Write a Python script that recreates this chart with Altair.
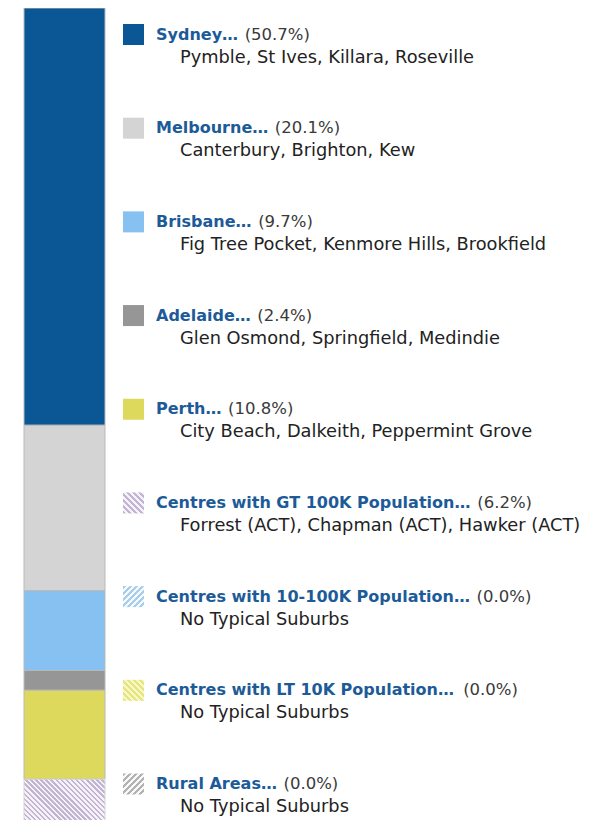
import glob
import struct

import altair as alt
import pandas as pd

# ---------------- data ----------------
names = [
    "Sydney…",
    "Melbourne…",
    "Brisbane…",
    "Adelaide…",
    "Perth…",
    "Centres with GT 100K Population…",
    "Centres with 10-100K Population…",
    "Centres with LT 10K Population…",
    "Rural Areas…",
]
shares = [50.7, 20.1, 9.7, 2.4, 10.8, 6.2, 0.0, 0.0, 0.0]
suburbs = [
    "Pymble, St Ives, Killara, Roseville",
    "Canterbury, Brighton, Kew",
    "Fig Tree Pocket, Kenmore Hills, Brookfield",
    "Glen Osmond, Springfield, Medindie",
    "City Beach, Dalkeith, Peppermint Grove",
    "Forrest (ACT),  Chapman (ACT), Hawker (ACT)",
    "No Typical Suburbs",
    "No Typical Suburbs",
    "No Typical Suburbs",
]
solid_colors = ["#0b5796", "#d4d4d4", "#86c1f1", "#969696", "#dcd95d", "", "", "", ""]

# hatch styles (stripe colour, background, direction)
hatch_styles = {
    5: ("#c4b4d3", "#f6f3f8", "\\"),
    6: ("#a9cde9", "#f4f9fd", "/"),
    7: ("#e6e47f", "#f8f7c6", "\\"),
    8: ("#b2b2b2", "#f8f8f8", "/"),
}

FONT = "DejaVu Sans"
TITLE_SIZE = 16
PCT_SIZE = 16.5
SUB_SIZE = 17.8
TITLE_X = 148
BAR_LEFT, BAR_RIGHT = 16, 97
BAR_RANGE = 823


# ------------- font metrics (for placing the percentage after the bold title) -------------
def load_width_fn(pattern, fallback):
    paths = glob.glob("/usr/share/fonts/**/" + pattern, recursive=True)
    if not paths:
        return lambda s, size: len(s) * size * fallback
    try:
        data = open(paths[0], "rb").read()
        num = struct.unpack(">H", data[4:6])[0]
        tables = {}
        for i in range(num):
            tag, _, off, ln = struct.unpack(">4sIII", data[12 + 16 * i: 28 + 16 * i])
            tables[tag.decode("latin1")] = off
        head = tables["head"]
        upem = struct.unpack(">H", data[head + 18: head + 20])[0]
        hhea = tables["hhea"]
        nhm = struct.unpack(">H", data[hhea + 34: hhea + 36])[0]
        hm = tables["hmtx"]
        adv = [struct.unpack(">H", data[hm + 4 * i: hm + 4 * i + 2])[0] for i in range(nhm)]
        cm = tables["cmap"]
        n = struct.unpack(">H", data[cm + 2: cm + 4])[0]
        sub = None
        for i in range(n):
            pid, eid, off = struct.unpack(">HHI", data[cm + 4 + 8 * i: cm + 12 + 8 * i])
            fmt = struct.unpack(">H", data[cm + off: cm + off + 2])[0]
            if fmt == 4:
                sub = cm + off
                break
        segx2 = struct.unpack(">H", data[sub + 6: sub + 8])[0]
        segs = segx2 // 2
        ends = struct.unpack(">%dH" % segs, data[sub + 14: sub + 14 + segx2])
        starts = struct.unpack(">%dH" % segs, data[sub + 16 + segx2: sub + 16 + 2 * segx2])
        deltas = struct.unpack(">%dh" % segs, data[sub + 16 + 2 * segx2: sub + 16 + 3 * segx2])
        rpos = sub + 16 + 3 * segx2
        roffs = struct.unpack(">%dH" % segs, data[rpos: rpos + segx2])

        def gid(c):
            for k in range(segs):
                if ends[k] >= c:
                    if starts[k] > c:
                        return 0
                    if roffs[k] == 0:
                        return (c + deltas[k]) & 0xFFFF
                    p = rpos + 2 * k + roffs[k] + 2 * (c - starts[k])
                    g = struct.unpack(">H", data[p: p + 2])[0]
                    return (g + deltas[k]) & 0xFFFF if g else 0
            return 0

        def width(s, size):
            return sum(adv[min(gid(ord(ch)), nhm - 1)] for ch in s) * size / upem

        return width
    except Exception:
        return lambda s, size: len(s) * size * fallback


bold_width = load_width_fn("DejaVuSans-Bold.ttf", 0.68)

df = pd.DataFrame(
    {
        "idx": list(range(len(names))),
        "name": names,
        "share": shares,
        "pct": ["(%.1f%%)" % s for s in shares],
        "suburbs": suburbs,
        "color": solid_colors,
        "hatch": [1 if i in hatch_styles else 0 for i in range(len(names))],
    }
)
df["pct_x"] = [TITLE_X + bold_width(n + " ", TITLE_SIZE) + 1 for n in names]


def stripes(c1, c2, direction, w, h, period, frac=0.5):
    """Linear gradient with hard stops that draws 45-degree stripes on a w x h box."""
    gx, gy = 1.0 / h, 1.0 / w
    if direction == "\\":
        p1 = (0.0, 1.0)
        v = (gx, -gy)
        corner = (1.0, 0.0)
    else:
        p1 = (0.0, 0.0)
        v = (gx, gy)
        corner = (1.0, 1.0)
    proj = ((corner[0] - p1[0]) * v[0] + (corner[1] - p1[1]) * v[1]) / (v[0] ** 2 + v[1] ** 2)
    p2 = (p1[0] + v[0] * proj, p1[1] + v[1] * proj)
    length_px = (w + h) / 2 ** 0.5
    n = max(1, round(length_px / period))
    stops = []
    for k in range(n):
        a = k / n
        b = (k + frac) / n
        c = (k + 1) / n
        stops += [
            {"offset": round(a, 5), "color": c1},
            {"offset": round(b, 5), "color": c1},
            {"offset": round(b, 5), "color": c2},
            {"offset": round(c, 5), "color": c2},
        ]
    return {
        "gradient": "linear",
        "x1": round(p1[0], 5),
        "y1": round(p1[1], 5),
        "x2": round(p2[0], 5),
        "y2": round(p2[1], 5),
        "stops": stops,
    }


bar_y = alt.Scale(domain=[0, 100], range=[0, BAR_RANGE])
row_y = alt.Scale(domain=[0, 8], range=[26.5, 776])

base = alt.Chart(df)

stacked = base.transform_stack(
    stack="share", groupby=[], as_=["y0", "y1"], sort=[alt.SortField("idx", order="ascending")]
)

layers = []
layers.append(
    stacked.transform_filter("datum.hatch == 0")
    .mark_rect(stroke="#b9b9b9", strokeWidth=1)
    .encode(
        x=alt.value(BAR_LEFT),
        x2=alt.value(BAR_RIGHT),
        y=alt.Y("y0:Q", scale=bar_y, axis=None),
        y2="y1:Q",
        fill=alt.Fill("color:N", scale=None),
    )
)
for i, (c1, c2, d) in hatch_styles.items():
    seg_h = max(shares[i] * BAR_RANGE / 100.0, 1.0)
    layers.append(
        stacked.transform_filter("datum.idx == %d" % i)
        .mark_rect(
            fill=stripes(c1, c2, d, BAR_RIGHT - BAR_LEFT, seg_h, 3.6),
            stroke="#d6d6d6",
            strokeWidth=1,
        )
        .encode(
            x=alt.value(BAR_LEFT),
            x2=alt.value(BAR_RIGHT),
            y=alt.Y("y0:Q", scale=bar_y, axis=None),
            y2="y1:Q",
        )
    )

# legend squares
layers.append(
    base.transform_filter("datum.hatch == 0")
    .mark_square(size=441, opacity=1, strokeWidth=0)
    .encode(
        x=alt.value(125.5),
        y=alt.Y("idx:Q", scale=row_y, axis=None),
        fill=alt.Fill("color:N", scale=None),
    )
)
for i, (c1, c2, d) in hatch_styles.items():
    layers.append(
        base.transform_filter("datum.idx == %d" % i)
        .mark_square(size=441, opacity=1, strokeWidth=0, fill=stripes(c1, c2, d, 21, 21, 4.0))
        .encode(x=alt.value(125.5), y=alt.Y("idx:Q", scale=row_y, axis=None))
    )

layers.append(
    base.mark_text(
        align="left", baseline="middle", font=FONT, fontSize=TITLE_SIZE, fontWeight="bold", color="#1d5b98"
    ).encode(x=alt.value(TITLE_X), y=alt.Y("idx:Q", scale=row_y, axis=None), text="name:N")
)
layers.append(
    base.mark_text(align="left", baseline="middle", font=FONT, fontSize=PCT_SIZE, color="#3a3a3a").encode(
        x=alt.X("pct_x:Q", scale=None), y=alt.Y("idx:Q", scale=row_y, axis=None), text="pct:N"
    )
)
layers.append(
    base.mark_text(align="left", baseline="middle", font=FONT, fontSize=SUB_SIZE, color="#222222", dy=23).encode(
        x=alt.value(172), y=alt.Y("idx:Q", scale=row_y, axis=None), text="suburbs:N"
    )
)

chart = (
    alt.layer(*layers)
    .resolve_scale(y="independent")
    .properties(width=575, height=812, padding=0, autosize=alt.AutoSizeParams(type="none"))
    .configure_view(stroke=None)
)

chart.save("out.html", embed_options={"renderer": "svg", "actions": False})
